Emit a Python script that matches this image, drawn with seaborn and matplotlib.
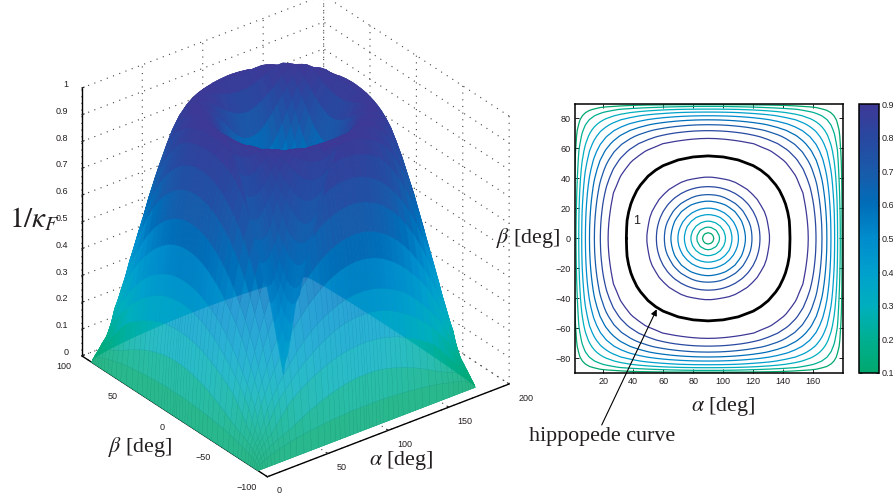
import numpy as np
import matplotlib
matplotlib.use('Agg')
import matplotlib.pyplot as plt
from matplotlib.cm import ScalarMappable
from matplotlib.colors import Normalize
from matplotlib.path import Path
from matplotlib.transforms import IdentityTransform
from mpl_toolkits.mplot3d import proj3d
import seaborn as sns

# distance from the edge of the workspace, deg (one quarter of the surface, the rest is mirrored)
edge_dist = [0, .7, 2, 4, 6, 8, 11, 14, 18, 22, 27, 32, 38, 44, 50, 55, 60, 64, 68, 72, 76, 79, 82, 85, 88, 90]

# 1/kappa_F x 1000, rows = beta side, columns = alpha side
quarter_vals = [
    [0] * 26,
    [0, 10, 16, 23, 28, 33, 38, 43, 49, 53, 59, 64, 69, 73, 76, 79, 81, 83, 84, 85, 86, 87, 87, 87, 87, 87],
    [0, 16, 28, 39, 48, 55, 65, 73, 82, 90, 100, 112, 128, 142, 155, 165, 174, 180, 185, 190, 194, 196, 198, 199, 199, 199],
    [0, 23, 39, 55, 68, 78, 91, 104, 128, 152, 182, 207, 227, 245, 261, 272, 283, 290, 296, 301, 305, 307, 309, 310, 311, 311],
    [0, 28, 48, 68, 83, 95, 120, 147, 185, 214, 242, 267, 295, 320, 342, 358, 372, 382, 391, 398, 403, 406, 409, 410, 411, 411],
    [0, 33, 55, 78, 95, 117, 154, 193, 227, 257, 291, 323, 358, 390, 416, 434, 449, 459, 468, 476, 482, 486, 488, 490, 491, 491],
    [0, 38, 65, 91, 120, 154, 205, 237, 278, 316, 361, 403, 442, 476, 507, 529, 548, 561, 573, 582, 590, 594, 598, 600, 601, 602],
    [0, 43, 73, 104, 147, 193, 237, 277, 326, 373, 424, 466, 513, 554, 590, 615, 636, 651, 663, 674, 682, 687, 691, 693, 694, 695],
    [0, 49, 82, 128, 185, 227, 278, 326, 387, 438, 494, 545, 600, 646, 685, 713, 735, 751, 764, 774, 783, 788, 792, 794, 796, 796],
    [0, 53, 90, 152, 214, 257, 316, 373, 438, 494, 558, 616, 675, 724, 764, 793, 817, 834, 848, 859, 868, 873, 877, 880, 881, 882],
    [0, 59, 100, 182, 242, 291, 361, 424, 494, 558, 630, 692, 753, 805, 848, 878, 903, 915, 926, 934, 940, 944, 946, 948, 949, 949],
    [0, 64, 112, 207, 267, 323, 403, 466, 545, 616, 692, 755, 820, 874, 914, 936, 953, 963, 971, 977, 982, 984, 986, 987, 988, 988],
    [0, 69, 128, 227, 295, 358, 442, 513, 600, 675, 753, 820, 887, 931, 960, 978, 989, 995, 999, 999, 997, 996, 995, 994, 993, 993],
    [0, 73, 142, 245, 320, 390, 476, 554, 646, 724, 805, 874, 931, 967, 989, 999, 996, 991, 984, 976, 969, 965, 961, 958, 957, 957],
    [0, 76, 155, 261, 342, 416, 507, 590, 685, 764, 848, 914, 960, 989, 999, 990, 975, 961, 945, 930, 916, 908, 900, 895, 891, 891],
    [0, 79, 165, 272, 358, 434, 529, 615, 713, 793, 878, 936, 978, 999, 990, 971, 946, 923, 899, 873, 849, 834, 822, 814, 810, 809],
    [0, 81, 174, 283, 372, 449, 548, 636, 735, 817, 903, 953, 989, 996, 975, 946, 910, 874, 836, 801, 771, 753, 738, 727, 721, 720],
    [0, 83, 180, 290, 382, 459, 561, 651, 751, 834, 915, 963, 995, 991, 961, 923, 874, 828, 784, 743, 707, 678, 653, 636, 626, 624],
    [0, 84, 185, 296, 391, 468, 573, 663, 764, 848, 926, 971, 999, 984, 945, 899, 836, 784, 734, 679, 622, 590, 568, 553, 544, 542],
    [0, 85, 190, 301, 398, 476, 582, 674, 774, 859, 934, 977, 999, 976, 930, 873, 801, 743, 679, 605, 555, 522, 492, 467, 453, 450],
    [0, 86, 194, 305, 403, 482, 590, 682, 783, 868, 940, 982, 997, 969, 916, 849, 771, 707, 622, 555, 494, 443, 401, 375, 360, 357],
    [0, 87, 196, 307, 406, 486, 594, 687, 788, 873, 944, 984, 996, 965, 908, 834, 753, 678, 590, 522, 443, 389, 348, 314, 293, 288],
    [0, 87, 198, 309, 409, 488, 598, 691, 792, 877, 946, 986, 995, 961, 900, 822, 738, 653, 568, 492, 401, 348, 296, 249, 219, 212],
    [0, 87, 199, 310, 410, 490, 600, 693, 794, 880, 948, 987, 994, 958, 895, 814, 727, 636, 553, 467, 375, 314, 249, 188, 142, 132],
    [0, 87, 199, 311, 411, 491, 601, 694, 796, 881, 949, 988, 993, 957, 891, 810, 721, 626, 544, 453, 360, 293, 219, 142, 74, 53],
    [0, 87, 199, 311, 411, 491, 602, 695, 796, 882, 949, 988, 993, 957, 891, 809, 720, 624, 542, 450, 357, 288, 212, 132, 53, 0],
]

# hippopede curve, one quarter
hippo_alpha = [35.5, 35.7, 36, 37, 38.5, 40, 42.5, 45, 50, 55, 60, 70, 80, 90]
hippo_beta = [0, 7, 12, 17.5, 23, 26.8, 32, 35.7, 41.5, 45.5, 48.5, 52.3, 54.3, 55]

levels = [.1, .2, .3, .4, .5, .6, .7, .8, .9]
cmap_colors = ['#00A86E', '#00AF91', '#00AFBE', '#00A0CD', '#008CCD', '#006EB9', '#195AAA', '#2848A0', '#3E3896']

sns.set_style('ticks')
plt.rcParams['font.family'] = ['Liberation Sans', 'DejaVu Sans']
plt.rcParams['mathtext.fontset'] = 'stix'
plt.rcParams['text.color'] = '#231F20'
cmap = sns.blend_palette(cmap_colors, as_cmap=True)

d = np.array(edge_dist, dtype=float)
alpha = np.r_[d, 180 - d[-2::-1]]
beta = alpha - 90
q = np.array(quarter_vals) / 1000
Z = np.vstack([q, q[-2::-1]])
Z = np.hstack([Z, Z[:, -2::-1]])
A, B = np.meshgrid(alpha, beta)

fig = plt.figure(figsize=(8.93, 5), dpi=100)

# left, 3d surface
ax = fig.add_axes([.02335, .0145, .6, 1], projection='3d', proj_type='ortho', computed_zorder=False)
ax.patch.set_alpha(0)
ax.view_init(elev=30, azim=-127.5)
ax.set_box_aspect((1, 1, 1.015), zoom=1.03)

ca = .25 * (A[:-1, :-1] + A[1:, :-1] + A[:-1, 1:] + A[1:, 1:])
cb = .25 * (B[:-1, :-1] + B[1:, :-1] + B[:-1, 1:] + B[1:, 1:])
cz = .25 * (Z[:-1, :-1] + Z[1:, :-1] + Z[:-1, 1:] + Z[1:, 1:])
r = np.hypot(ca - 90, cb)
front = (-.527 * (ca - 90) - .687 * cb) / .866 / np.maximum(r, 1e-6)
is_back = ca - 90 + cb >= 0
is_inner = r < 56


def draw_layer(mask, cell_colors, zorder, lw=.3):
    # one part of the surface, the other cells stay fully transparent
    rgba = np.zeros(A.shape + (4,))
    rgba[:-1, :-1][mask] = cell_colors[mask]
    return ax.plot_surface(A, B, Z, facecolors=rgba, rstride=1, cstride=1, shade=False,
                           linewidth=lw, zorder=zorder)


base = cmap(cz)
# painted back to front by hand, sorting long thin cells gives arches otherwise
draw_layer(is_back & ~is_inner, base, 2)
draw_layer(is_back & is_inner, cmap(cz ** 1.6), 3)
draw_layer(~is_back & is_inner, base, 4)
draw_layer(~is_back & ~is_inner, base, 5)

# lower front wall comes out lighter in the original, with the mesh showing
light = base.copy()
light[..., :3] = .84 * base[..., :3] + .16
wall = draw_layer(~is_back & ~is_inner, light, 6, lw=.2)
edge = np.zeros(base.shape)
edge[~is_back & ~is_inner] = light[~is_back & ~is_inner]
edge[..., :3] *= .9
wall.set_edgecolor(edge.reshape(-1, 4))

# front part of the crater wall is drawn over everything in the original
draw_layer(is_inner & (front > .55), cmap(.33 + .67 * cz), 7)

ax.set_xlim(0, 200, view_margin=0)
ax.set_ylim(-100, 100, view_margin=0)
ax.set_zlim(0, 1, view_margin=0)
ax.set_xticks([0, 50, 100, 150, 200])
ax.set_yticks([-100, -50, 0, 50, 100])
ax.set_zticks(np.arange(0, 1.01, .1))
ax.set_zticklabels(['0', '0.1', '0.2', '0.3', '0.4', '0.5', '0.6', '0.7', '0.8', '0.9', '1'])
ax.tick_params(labelsize=6.5, colors='#231F20')
ax.tick_params(axis='x', pad=1)
ax.tick_params(axis='y', pad=0)
ax.tick_params(axis='z', pad=-2)
for t in ax.get_xticklabels():
    t.set_ha('left')
    t.set_va('bottom')
for t in ax.get_yticklabels():
    t.set_ha('right')
    t.set_va('bottom')
for t in ax.get_zticklabels():
    t.set_ha('right')
    t.set_va('baseline')
for axis in (ax.xaxis, ax.yaxis, ax.zaxis):
    axis.set_pane_color((1, 1, 1, 0))
    axis.pane.set_edgecolor((1, 1, 1, 0))
    axis.line.set_color('k')
    axis.line.set_linewidth(1)
    axis._axinfo['grid'].update(color='#444444', linestyle=(0, (1, 5)), linewidth=.8)
    axis._axinfo['tick'].update(inward_factor=0, outward_factor=.12)

# clip the light wall to the footprint of the surface on the floor, its back edges bow up a little
fig.canvas.draw()
M = ax.get_proj()
row = Z[1]
outline = [(-5, 95, 0)] + [(a, 90, .45 * z) for a, z in zip(alpha, row)] \
    + [(180, b, .15 * z) for b, z in zip(beta[::-1], row)] + [(185, -95, 0), (-5, -95, 0), (-5, 95, 0)]
pts = []
for p in outline:
    x, y, _ = proj3d.proj_transform(*p, M)
    pts.append(ax.transData.transform((x, y)))
wall.set_clip_path(Path(np.array(pts)), IdentityTransform())

# right, contour map
ax2 = fig.add_axes([575 / 893, 1 - 372.5 / 500, 268 / 893, 268.5 / 500])
ax2.contour(A, B, Z, levels=levels, cmap=cmap, vmin=.1, vmax=.9, linewidths=.9)
ha = np.array(hippo_alpha)
hb = np.array(hippo_beta)
loop_a = np.r_[ha, 180 - ha[::-1], 180 - ha, ha[::-1]]
loop_b = np.r_[hb, hb[::-1], -hb, -hb[::-1]]
ax2.plot(loop_a, loop_b, color='k', lw=2)
ax2.text(42, 11.5, '1', fontsize=9, ha='center', va='center')
ax2.set_xlim(1.3, 179.8)
ax2.set_ylim(-89.4, 89.6)
ax2.set_xticks(np.arange(20, 161, 20))
ax2.set_yticks(np.arange(-80, 81, 20))
ax2.tick_params(direction='in', top=True, right=True, length=3, width=.7, labelsize=6.5, pad=3, colors='#231F20')
for sp in ax2.spines.values():
    sp.set_linewidth(1.1)
    sp.set_color('k')

# colour bar
cax = fig.add_axes([858.5 / 893, 1 - 373 / 500, 20.5 / 893, 269 / 500])
cb_ = fig.colorbar(ScalarMappable(Normalize(.1, .9), cmap), cax=cax, ticks=levels)
cb_.ax.tick_params(direction='in', left=True, right=True, length=2, width=.6, labelsize=6.5, pad=2, colors='#231F20')
cb_.outline.set_linewidth(1.1)
cb_.outline.set_edgecolor('k')

serif = ['Liberation Serif', 'DejaVu Serif']
fig.text(34 / 893, 1 - 219 / 500, r'$1/\kappa_F$', fontsize=21, family=serif, ha='center', va='center')
fig.text(140 / 893, 1 - 447 / 500, r'$\beta$ [deg]', fontsize=15.8, family=serif, ha='center', va='center')
fig.text(401 / 893, 1 - 460 / 500, r'$\alpha$ [deg]', fontsize=15.8, family=serif, ha='center', va='center')
fig.text(528 / 893, 1 - 238 / 500, r'$\beta$ [deg]', fontsize=15.8, family=serif, ha='center', va='center')
fig.text(723 / 893, 1 - 406 / 500, r'$\alpha$ [deg]', fontsize=15.8, family=serif, ha='center', va='center')
fig.text(602 / 893, 1 - 436 / 500, 'hippopede curve', fontsize=15.8, family=serif, ha='center', va='center')
ax2.annotate('', xy=(656.7 / 893, 1 - 309.3 / 500), xytext=(601.7 / 893, 1 - 425 / 500),
             xycoords='figure fraction', textcoords='figure fraction',
             arrowprops=dict(arrowstyle='-|>', color='k', lw=.8, shrinkA=0, shrinkB=0, mutation_scale=9),
             annotation_clip=False)

fig.savefig('out.png', dpi=100)
